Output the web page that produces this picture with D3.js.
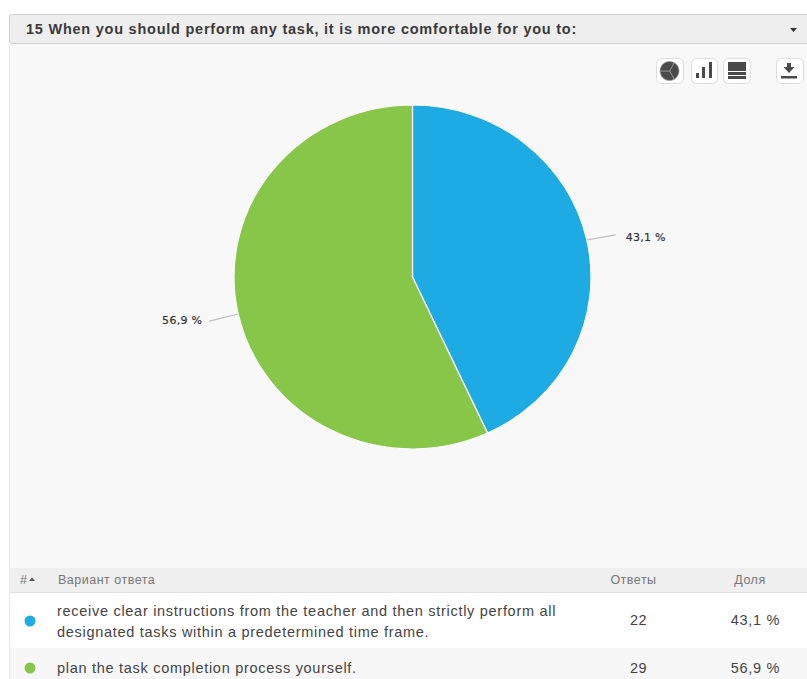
<!DOCTYPE html>
<html><head><meta charset="utf-8">
<script src="https://cdn.jsdelivr.net/npm/d3@7"></script>
<style>html,body{margin:0;padding:0;background:#fff;overflow:hidden}svg{display:block}text{font-family:"Liberation Sans",Arial,sans-serif}</style>
</head><body><svg id="c" width="807" height="679"></svg>
<script>
const title = "15 When you should perform any task, it is more comfortable for you to:";
const answers = ["receive clear instructions from the teacher and then strictly perform all|designated tasks within a predetermined time frame.", "plan the task completion process yourself."];
const counts = [22, 29];
const shares = [43.1, 56.9];
const shareLabels = ["43,1 %", "56,9 %"];
const colors = ["#1eaae2", "#88c64a"];
const tableHead = ["#", "Вариант ответа", "Ответы", "Доля"];

const svg = d3.select("#c");
// panel
svg.append("rect").attr("x",9).attr("y",44).attr("width",798).attr("height",524).attr("fill","#f8f8f8");
svg.append("line").attr("x1",9.5).attr("x2",9.5).attr("y1",44).attr("y2",679).attr("stroke","#e8e8e8");
svg.append("rect").attr("x",9.5).attr("y",14.5).attr("width",800).attr("height",29).attr("rx",2)
  .attr("fill","#eeeeee").attr("stroke","#cfcfcf");
svg.append("text").attr("x",26).attr("y",34).attr("font-size",14.5).attr("font-weight","bold").attr("fill","#3a3a3a")
  .attr("letter-spacing",0.76).text(title);
svg.append("path").attr("d","M790 28h7l-3.5 4z").attr("fill","#333");

// toolbar
const btns = [[656,27],[691,26],[723,27],[776,27]];
const bar = svg.append("g");
btns.forEach(([x,w])=>bar.append("rect").attr("x",x+.5).attr("y",58.5).attr("width",w).attr("height",25).attr("rx",5)
  .attr("fill","#fff").attr("stroke","#dddddd"));
const ic = "#4a4a4a";
const mini = d3.arc().innerRadius(0).outerRadius(9.5);
const iconPie = d3.pie().sort(null).startAngle(Math.PI/6).endAngle(Math.PI/6+2*Math.PI)([1,1,1]);
bar.append("g").attr("transform","translate(669.5,71)").selectAll("path").data(iconPie).join("path")
  .attr("d",mini).attr("fill",ic).attr("stroke","#999").attr("stroke-width",.7);
[[696,3,5],[702,3,11],[709,3,16]].forEach(([x,w,h])=>bar.append("rect").attr("x",x).attr("y",78-h).attr("width",w).attr("height",h).attr("fill",ic));
[[728,62,9],[728,72,3],[728,76,3]].forEach(([x,y,h])=>bar.append("rect").attr("x",x).attr("y",y).attr("width",18).attr("height",h).attr("fill",ic));
bar.append("path").attr("d","M787 63h4v4h3.5l-5.5 6-5.5-6h3.5z").attr("fill",ic);
bar.append("rect").attr("x",781).attr("y",76).attr("width",16).attr("height",2.5).attr("fill",ic);

// pie
const cx = 412.5, cy = 277, rx = 178.5, ry = 172;
const sy = ry/rx;
const pie = d3.pie().sort(null).value(d=>d)(shares);
const arc = d3.arc().innerRadius(0).outerRadius(rx);
const g = svg.append("g").attr("transform",`translate(${cx},${cy}) scale(1,${sy})`);
g.selectAll("path").data(pie).join("path").attr("d",arc).attr("fill",(d,i)=>colors[i])
  .attr("stroke","#fff").attr("stroke-width",1.2).attr("stroke-linejoin","round");
const pt = (d,r)=>{const m=(d.startAngle+d.endAngle)/2;return [cx+r*Math.sin(m),cy-r*sy*Math.cos(m)];};
svg.append("g").selectAll("line").data(pie).join("line")
  .attr("x1",d=>pt(d,rx)[0]).attr("y1",d=>pt(d,rx)[1])
  .attr("x2",d=>pt(d,208)[0]).attr("y2",d=>pt(d,208)[1]+1)
  .attr("stroke","#bbbbbb").attr("stroke-width",1.2);
svg.append("g").selectAll("text").data(pie).join("text")
  .attr("x",(d,i)=>pt(d,208)[0]+(i==0?10:-7))
  .attr("y",(d,i)=>pt(d,208)[1]+(i==0?7.5:3.5))
  .attr("text-anchor",(d,i)=>i==0?"start":"end")
  .style("font-family","'DejaVu Sans',sans-serif").attr("font-size",11).attr("letter-spacing",0.3)
  .attr("stroke","#333").attr("stroke-width",0.2).attr("fill","#333")
  .text((d,i)=>shareLabels[i]);

// table
const thy = 584;
svg.append("rect").attr("x",10).attr("y",568).attr("width",797).attr("height",24).attr("fill","#efefef");
svg.append("line").attr("x1",10).attr("x2",807).attr("y1",592.5).attr("y2",592.5).attr("stroke","#e2e2e2");
svg.append("rect").attr("x",10).attr("y",593).attr("width",797).attr("height",55).attr("fill","#fff");
svg.append("rect").attr("x",10).attr("y",648).attr("width",797).attr("height",31).attr("fill","#f7f7f7");
const hs = svg.append("g").attr("font-size",12.5).attr("fill","#777");
hs.append("text").attr("x",20).attr("y",thy).text(tableHead[0]);
hs.append("path").attr("d","M29 581l3-3.5 3 3.5z").attr("fill","#555");
hs.append("text").attr("x",58).attr("y",thy).attr("letter-spacing",0.5).text(tableHead[1]);
hs.append("text").attr("x",633.5).attr("y",thy).attr("text-anchor","middle").attr("letter-spacing",0.5).text(tableHead[2]);
hs.append("text").attr("x",750).attr("y",thy).attr("text-anchor","middle").attr("letter-spacing",0.5).text(tableHead[3]);
const rowY = [620, 668], rows = svg.append("g").attr("font-size",14.5).attr("fill","#444");
answers.forEach((a,i)=>{
  rows.append("circle").attr("cx",30).attr("cy",rowY[i]+(i?0:1)).attr("r",5.5).attr("fill",colors[i]);
  const ls = a.split("|");
  ls.forEach((l,j)=>rows.append("text").attr("x",57).attr("letter-spacing",0.71)
    .attr("y",ls.length>1?rowY[i]-4+j*21:rowY[i]+5).text(l));
  rows.append("text").attr("x",638.5).attr("y",rowY[i]+5).attr("text-anchor","middle").attr("letter-spacing",0.5).text(counts[i]);
  rows.append("text").attr("x",755.5).attr("y",rowY[i]+5).attr("text-anchor","middle").attr("letter-spacing",0.7).text(shareLabels[i]);
});
</script></body></html>
